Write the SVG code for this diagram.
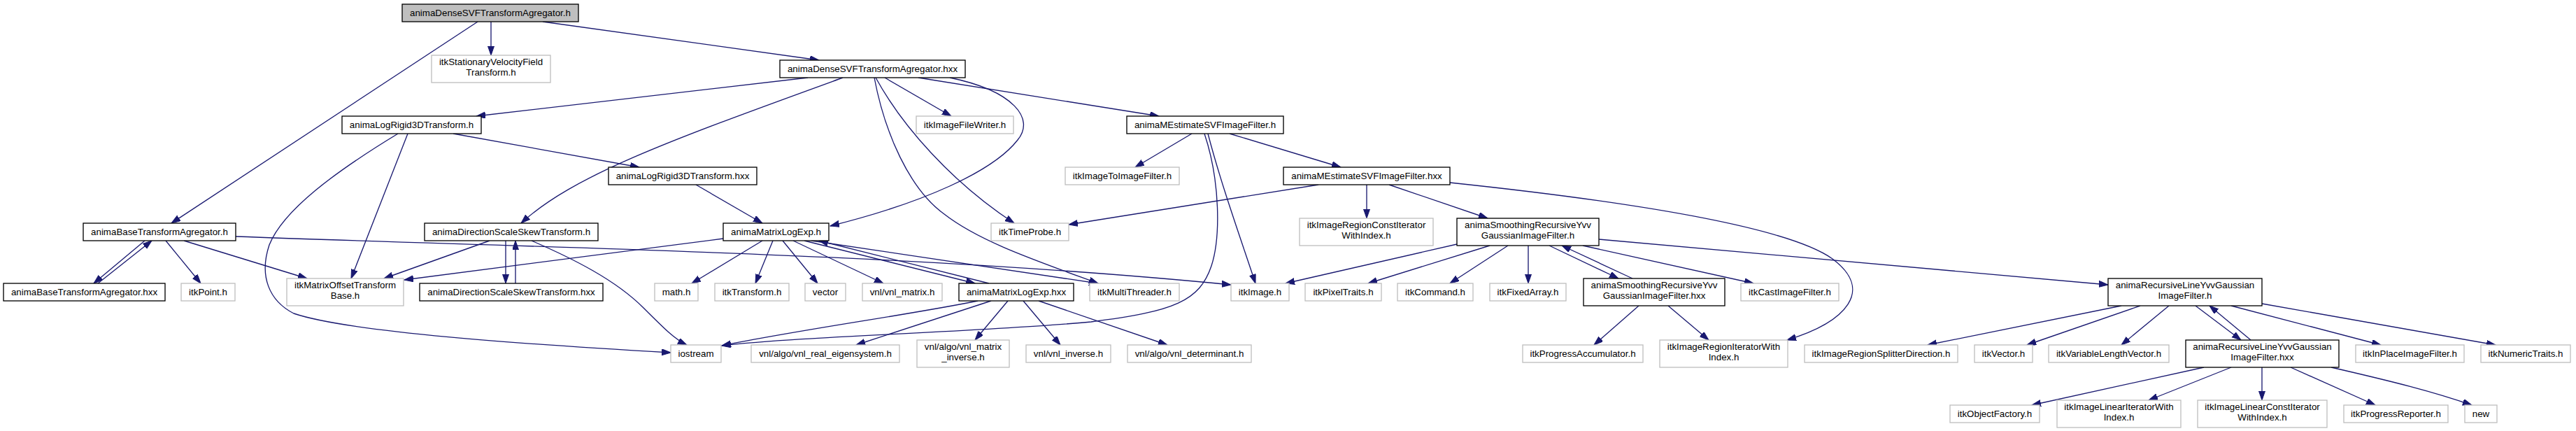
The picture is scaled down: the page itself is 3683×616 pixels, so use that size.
<svg xmlns="http://www.w3.org/2000/svg" width="3683" height="616" viewBox="0 0 3683 616">
<style>
.n rect{fill:#fff;stroke:#000;stroke-width:1.33}
.x rect{fill:#fff;stroke:#bfbfbf;stroke-width:1.33}
.r rect{fill:#bfbfbf;stroke:#000;stroke-width:1.33}
text{font-family:"Liberation Sans",Arial,Helvetica,sans-serif;font-size:13.33px;text-anchor:middle;fill:#000}
#edges path{fill:none;stroke:#191970;stroke-width:1.33;marker-end:url(#a)}
</style>
<defs>
<marker id="a" markerUnits="userSpaceOnUse" markerWidth="14" markerHeight="10" refX="13" refY="4.5" orient="auto">
<path d="M0,0 L13,4.5 L0,9 z" fill="#191970" stroke="#191970" stroke-width="1"/>
</marker>
</defs>
<rect width="3683" height="616" fill="#fff"/>
<g id="edges">
<path d="M683,31 L245,319"/>
<path d="M702,31 L702,79"/>
<path d="M776,31 L1171,86"/>
<path d="M1155,111 L681,166"/>
<path d="M1205,111 C960,200 820,250 745,319"/>
<path d="M1265,111 L1360,166"/>
<path d="M1313,111 L1657,166"/>
<path d="M1358,111 C1450,130 1480,170 1455,200 C1420,245 1320,290 1187,323"/>
<path d="M1250,111 C1265,190 1300,270 1350,306 C1400,345 1480,372 1570,405"/>
<path d="M1252,111 C1290,180 1360,260 1450,319"/>
<path d="M648,191 L914,239"/>
<path d="M583,191 L502,398"/>
<path d="M569,191 C480,245 405,300 385,350 C370,395 385,430 420,448 C500,475 750,492 959,504"/>
<path d="M995,264 L1090,319"/>
<path d="M207,344 L134,405"/>
<path d="M140,405 L217,344"/>
<path d="M237,344 L287,405"/>
<path d="M263,344 L439,398"/>
<path d="M337,338 C800,355 1300,362 1760,407"/>
<path d="M700,344 L549,398"/>
<path d="M723,344 L723,405"/>
<path d="M737,405 L737,344"/>
<path d="M760,344 C820,370 880,400 920,440 C950,470 965,485 982,493"/>
<path d="M1034,341 L578,400"/>
<path d="M1090,344 L989,405"/>
<path d="M1105,344 L1080,405"/>
<path d="M1119,344 L1169,405"/>
<path d="M1134,344 L1263,405"/>
<path d="M1150,344 L1394,405"/>
<path d="M1414,405 L1171,344"/>
<path d="M1160,344 L1570,405"/>
<path d="M1398,430 C1300,450 1150,470 1032,494"/>
<path d="M1417,430 L1224,493"/>
<path d="M1441,430 L1394,486"/>
<path d="M1463,430 L1516,493"/>
<path d="M1485,430 L1669,493"/>
<path d="M1704,191 L1623,239"/>
<path d="M1758,191 L1917,239"/>
<path d="M1727,191 C1745,260 1770,330 1795,405"/>
<path d="M1722,191 C1745,260 1745,340 1732,380 C1715,430 1680,445 1560,460 C1400,475 1150,480 1032,494"/>
<path d="M1885,264 L1528,321"/>
<path d="M1954,264 L1954,312"/>
<path d="M1986,264 L2127,312"/>
<path d="M2073,261 C2300,285 2550,320 2620,370 C2680,415 2640,460 2555,486"/>
<path d="M2083,349 L1838,405"/>
<path d="M2130,351 L1956,405"/>
<path d="M2156,351 L2073,405"/>
<path d="M2185,351 L2185,405"/>
<path d="M2215,351 L2314,398"/>
<path d="M2334,398 L2233,351"/>
<path d="M2263,351 L2507,405"/>
<path d="M2286,342 L3014,407"/>
<path d="M2343,437 L2279,493"/>
<path d="M2385,437 L2443,486"/>
<path d="M3033,437 L2756,493"/>
<path d="M3060,437 L2898,493"/>
<path d="M3101,437 L3033,493"/>
<path d="M3139,437 L3204,486"/>
<path d="M3218,486 L3159,437"/>
<path d="M3190,437 L3404,493"/>
<path d="M3234,434 L3568,493"/>
<path d="M3151,525 L2905,579"/>
<path d="M3190,525 L3072,572"/>
<path d="M3234,525 L3234,572"/>
<path d="M3275,525 L3396,579"/>
<path d="M3333,525 C3420,545 3480,560 3534,579"/>
</g>
<g id="n0" class="r"><rect x="575" y="6" width="252" height="25"/><text x="701" y="23">animaDenseSVFTransformAgregator.h</text></g>
<g id="n1" class="x"><rect x="617" y="79" width="170" height="39"/><text x="702" y="93.3">itkStationaryVelocityField</text><text x="702" y="107.6">Transform.h</text></g>
<g id="n2" class="n"><rect x="1115" y="86" width="265" height="25"/><text x="1247.5" y="103">animaDenseSVFTransformAgregator.hxx</text></g>
<g id="n3" class="n"><rect x="119" y="319" width="218" height="25"/><text x="228" y="336">animaBaseTransformAgregator.h</text></g>
<g id="n4" class="n"><rect x="489" y="166" width="199" height="25"/><text x="588.5" y="183">animaLogRigid3DTransform.h</text></g>
<g id="n5" class="x"><rect x="1310" y="166" width="139" height="25"/><text x="1379.5" y="183">itkImageFileWriter.h</text></g>
<g id="n6" class="n"><rect x="1611" y="166" width="224" height="25"/><text x="1723" y="183">animaMEstimateSVFImageFilter.h</text></g>
<g id="n7" class="n"><rect x="870" y="239" width="212" height="25"/><text x="976" y="256">animaLogRigid3DTransform.hxx</text></g>
<g id="n8" class="x"><rect x="1523" y="239" width="163" height="25"/><text x="1604.5" y="256">itkImageToImageFilter.h</text></g>
<g id="n9" class="n"><rect x="1835" y="239" width="238" height="25"/><text x="1954" y="256">animaMEstimateSVFImageFilter.hxx</text></g>
<g id="n10" class="n"><rect x="607" y="319" width="248" height="25"/><text x="731" y="336">animaDirectionScaleSkewTransform.h</text></g>
<g id="n11" class="n"><rect x="1034" y="319" width="151" height="25"/><text x="1109.5" y="336">animaMatrixLogExp.h</text></g>
<g id="n12" class="x"><rect x="1417" y="319" width="111" height="25"/><text x="1472.5" y="336">itkTimeProbe.h</text></g>
<g id="n13" class="x"><rect x="1858" y="312" width="191" height="39"/><text x="1953.5" y="326.3">itkImageRegionConstIterator</text><text x="1953.5" y="340.6">WithIndex.h</text></g>
<g id="n14" class="n"><rect x="2083" y="312" width="203" height="39"/><text x="2184.5" y="326.3">animaSmoothingRecursiveYvv</text><text x="2184.5" y="340.6">GaussianImageFilter.h</text></g>
<g id="n15" class="n"><rect x="5" y="405" width="231" height="25"/><text x="120.5" y="422">animaBaseTransformAgregator.hxx</text></g>
<g id="n16" class="x"><rect x="259" y="405" width="77" height="25"/><text x="297.5" y="422">itkPoint.h</text></g>
<g id="n17" class="x"><rect x="410" y="398" width="167" height="39"/><text x="493.5" y="412.3">itkMatrixOffsetTransform</text><text x="493.5" y="426.6">Base.h</text></g>
<g id="n18" class="n"><rect x="600" y="405" width="262" height="25"/><text x="731" y="422">animaDirectionScaleSkewTransform.hxx</text></g>
<g id="n19" class="x"><rect x="936" y="405" width="62" height="25"/><text x="967" y="422">math.h</text></g>
<g id="n20" class="x"><rect x="1022" y="405" width="106" height="25"/><text x="1075" y="422">itkTransform.h</text></g>
<g id="n21" class="x"><rect x="1151" y="405" width="58" height="25"/><text x="1180" y="422">vector</text></g>
<g id="n22" class="x"><rect x="1233" y="405" width="114" height="25"/><text x="1290" y="422">vnl/vnl_matrix.h</text></g>
<g id="n23" class="n"><rect x="1371" y="405" width="164" height="25"/><text x="1453" y="422">animaMatrixLogExp.hxx</text></g>
<g id="n24" class="x"><rect x="1558" y="405" width="128" height="25"/><text x="1622" y="422">itkMultiThreader.h</text></g>
<g id="n25" class="x"><rect x="1760" y="405" width="83" height="25"/><text x="1801.5" y="422">itkImage.h</text></g>
<g id="n26" class="x"><rect x="1866" y="405" width="109" height="25"/><text x="1920.5" y="422">itkPixelTraits.h</text></g>
<g id="n27" class="x"><rect x="1998" y="405" width="108" height="25"/><text x="2052" y="422">itkCommand.h</text></g>
<g id="n28" class="x"><rect x="2130" y="405" width="109" height="25"/><text x="2184.5" y="422">itkFixedArray.h</text></g>
<g id="n29" class="n"><rect x="2264" y="398" width="202" height="39"/><text x="2365" y="412.3">animaSmoothingRecursiveYvv</text><text x="2365" y="426.6">GaussianImageFilter.hxx</text></g>
<g id="n30" class="x"><rect x="2489" y="405" width="140" height="25"/><text x="2559" y="422">itkCastImageFilter.h</text></g>
<g id="n31" class="n"><rect x="3014" y="398" width="220" height="39"/><text x="3124" y="412.3">animaRecursiveLineYvvGaussian</text><text x="3124" y="426.6">ImageFilter.h</text></g>
<g id="n32" class="x"><rect x="959" y="493" width="72" height="25"/><text x="995" y="510">iostream</text></g>
<g id="n33" class="x"><rect x="1074" y="493" width="212" height="25"/><text x="1180" y="510">vnl/algo/vnl_real_eigensystem.h</text></g>
<g id="n34" class="x"><rect x="1311" y="486" width="132" height="39"/><text x="1377" y="500.3">vnl/algo/vnl_matrix</text><text x="1377" y="514.6">_inverse.h</text></g>
<g id="n35" class="x"><rect x="1467" y="493" width="121" height="25"/><text x="1527.5" y="510">vnl/vnl_inverse.h</text></g>
<g id="n36" class="x"><rect x="1612" y="493" width="177" height="25"/><text x="1700.5" y="510">vnl/algo/vnl_determinant.h</text></g>
<g id="n37" class="x"><rect x="2177" y="493" width="172" height="25"/><text x="2263" y="510">itkProgressAccumulator.h</text></g>
<g id="n38" class="x"><rect x="2373" y="486" width="183" height="39"/><text x="2464.5" y="500.3">itkImageRegionIteratorWith</text><text x="2464.5" y="514.6">Index.h</text></g>
<g id="n39" class="x"><rect x="2580" y="493" width="219" height="25"/><text x="2689.5" y="510">itkImageRegionSplitterDirection.h</text></g>
<g id="n40" class="x"><rect x="2823" y="493" width="83" height="25"/><text x="2864.5" y="510">itkVector.h</text></g>
<g id="n41" class="x"><rect x="2929" y="493" width="172" height="25"/><text x="3015" y="510">itkVariableLengthVector.h</text></g>
<g id="n42" class="n"><rect x="3125" y="486" width="219" height="39"/><text x="3234.5" y="500.3">animaRecursiveLineYvvGaussian</text><text x="3234.5" y="514.6">ImageFilter.hxx</text></g>
<g id="n43" class="x"><rect x="3368" y="493" width="155" height="25"/><text x="3445.5" y="510">itkInPlaceImageFilter.h</text></g>
<g id="n44" class="x"><rect x="3547" y="493" width="128" height="25"/><text x="3611" y="510">itkNumericTraits.h</text></g>
<g id="n45" class="x"><rect x="2788" y="579" width="128" height="25"/><text x="2852" y="596">itkObjectFactory.h</text></g>
<g id="n46" class="x"><rect x="2941" y="572" width="177" height="39"/><text x="3029.5" y="586.3">itkImageLinearIteratorWith</text><text x="3029.5" y="600.6">Index.h</text></g>
<g id="n47" class="x"><rect x="3142" y="572" width="185" height="39"/><text x="3234.5" y="586.3">itkImageLinearConstIterator</text><text x="3234.5" y="600.6">WithIndex.h</text></g>
<g id="n48" class="x"><rect x="3351" y="579" width="149" height="25"/><text x="3425.5" y="596">itkProgressReporter.h</text></g>
<g id="n49" class="x"><rect x="3524" y="579" width="46" height="25"/><text x="3547" y="596">new</text></g>
</svg>
